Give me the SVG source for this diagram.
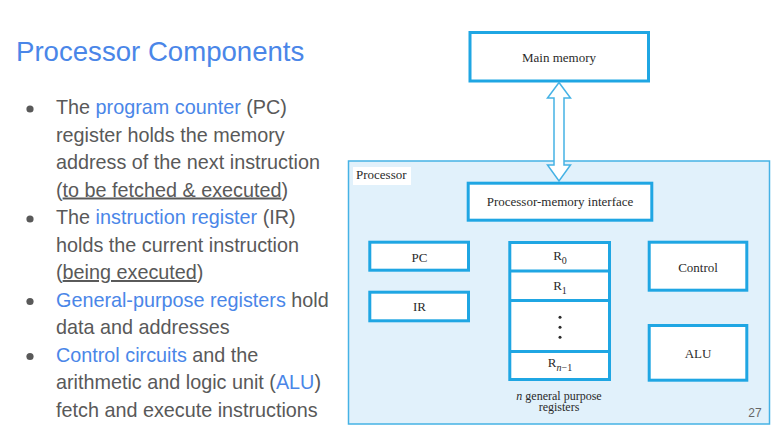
<svg xmlns="http://www.w3.org/2000/svg" width="773" height="428" viewBox="0 0 773 428">
<style>
.title{font-family:"Liberation Sans",Arial,sans-serif;font-size:27.6px;fill:#4a86e8}
.body{font-family:"Liberation Sans",Arial,sans-serif;font-size:19.8px;fill:#595959}
.hl{fill:#4a86e8}
.ul{text-decoration:underline}
.box{fill:#ffffff;stroke:#1fa6e3;stroke-width:3}
.lbl{font-family:"Liberation Serif","Times New Roman",serif;font-size:13px;fill:#2a2a2a;text-anchor:middle}
.cap{font-family:"Liberation Serif","Times New Roman",serif;font-size:12px;fill:#2a2a2a;text-anchor:middle}
.sub{font-size:10px}
.bul{fill:#595959}
</style>
<rect width="773" height="428" fill="#ffffff"/>
<g id="text">
<text class="title" x="16" y="60.5">Processor Components</text>
<circle class="bul" cx="30" cy="109" r="3.6"/>
<circle class="bul" cx="30" cy="219" r="3.6"/>
<circle class="bul" cx="30" cy="301.5" r="3.6"/>
<circle class="bul" cx="30" cy="356.5" r="3.6"/>
<text class="body" x="56" y="114"><tspan>The </tspan><tspan class="hl">program counter</tspan><tspan> (PC)</tspan></text>
<text class="body" x="56" y="141.5">register holds the memory</text>
<text class="body" x="56" y="169">address of the next instruction</text>
<text class="body" x="56" y="196.5">(<tspan class="ul">to be fetched &amp; executed</tspan>)</text>
<text class="body" x="56" y="224"><tspan>The </tspan><tspan class="hl">instruction register</tspan><tspan> (IR)</tspan></text>
<text class="body" x="56" y="251.5">holds the current instruction</text>
<text class="body" x="56" y="279">(<tspan class="ul">being executed</tspan>)</text>
<text class="body" x="56" y="306.5"><tspan class="hl">General-purpose registers</tspan><tspan> hold</tspan></text>
<text class="body" x="56" y="334">data and addresses</text>
<text class="body" x="56" y="361.5"><tspan class="hl">Control circuits</tspan><tspan> and the</tspan></text>
<text class="body" x="56" y="389">arithmetic and logic unit (<tspan class="hl">ALU</tspan>)</text>
<text class="body" x="56" y="416.5">fetch and execute instructions</text>
</g>
<g id="processor">
<rect x="348.5" y="161" width="421" height="263" fill="#e1f1fb" stroke="#45b2e5" stroke-width="1.5"/>
<rect x="353" y="167" width="58" height="18" fill="#ffffff"/>
<text x="356" y="178.5" font-family="'Liberation Serif','Times New Roman',serif" font-size="13" fill="#2a2a2a">Processor</text>
</g>
<g id="main-memory">
<rect class="box" x="470" y="32.5" width="178.5" height="48.5"/>
<text class="lbl" x="559" y="61.5">Main memory</text>
</g>
<g id="connectors">
<path d="M559,82.5 L570.5,98 L564,98 L564,165 L570.5,165 L559,181 L547.5,165 L554,165 L554,98 L547.5,98 Z" fill="#ffffff" stroke="#45b2e5" stroke-width="1.5" stroke-linejoin="miter"/>
</g>
<g id="pm-interface">
<rect class="box" x="468.2" y="183.2" width="183.6" height="37"/>
<text class="lbl" x="560" y="205.5">Processor-memory interface</text>
</g>
<g id="pc">
<rect class="box" x="369.8" y="242.2" width="98.7" height="28"/>
<text class="lbl" x="419.5" y="261.5">PC</text>
</g>
<g id="ir">
<rect class="box" x="369.8" y="292.2" width="98.7" height="28.6"/>
<text class="lbl" x="419.5" y="311">IR</text>
</g>
<g id="registers">
<rect class="box" x="509.8" y="242.5" width="99.7" height="137"/>
<line x1="509.8" y1="271" x2="609.5" y2="271" stroke="#1fa6e3" stroke-width="3"/>
<line x1="509.8" y1="300.5" x2="609.5" y2="300.5" stroke="#1fa6e3" stroke-width="3"/>
<line x1="509.8" y1="351.5" x2="609.5" y2="351.5" stroke="#1fa6e3" stroke-width="3"/>
<text class="lbl" x="560" y="260">R<tspan class="sub" dy="4">0</tspan></text>
<text class="lbl" x="560" y="289.5">R<tspan class="sub" dy="4">1</tspan></text>
<circle cx="560" cy="317.3" r="1.5" fill="#2a2a2a"/>
<circle cx="560" cy="327.3" r="1.5" fill="#2a2a2a"/>
<circle cx="560" cy="337.3" r="1.5" fill="#2a2a2a"/>
<text class="lbl" x="560" y="367">R<tspan class="sub" dy="4"><tspan font-style="italic">n</tspan>−1</tspan></text>
<text class="cap" x="559" y="399.5"><tspan font-style="italic">n</tspan> general purpose</text>
<text class="cap" x="559" y="411">registers</text>
</g>
<g id="control">
<rect class="box" x="649.2" y="242.2" width="97.6" height="48"/>
<text class="lbl" x="698" y="271.5">Control</text>
</g>
<g id="alu">
<rect class="box" x="649.2" y="325.5" width="97.6" height="54.7"/>
<text class="lbl" x="698" y="357.5">ALU</text>
</g>
<text x="755" y="417" font-family="'Liberation Sans',Arial,sans-serif" font-size="12" fill="#666666" text-anchor="middle">27</text>
</svg>
